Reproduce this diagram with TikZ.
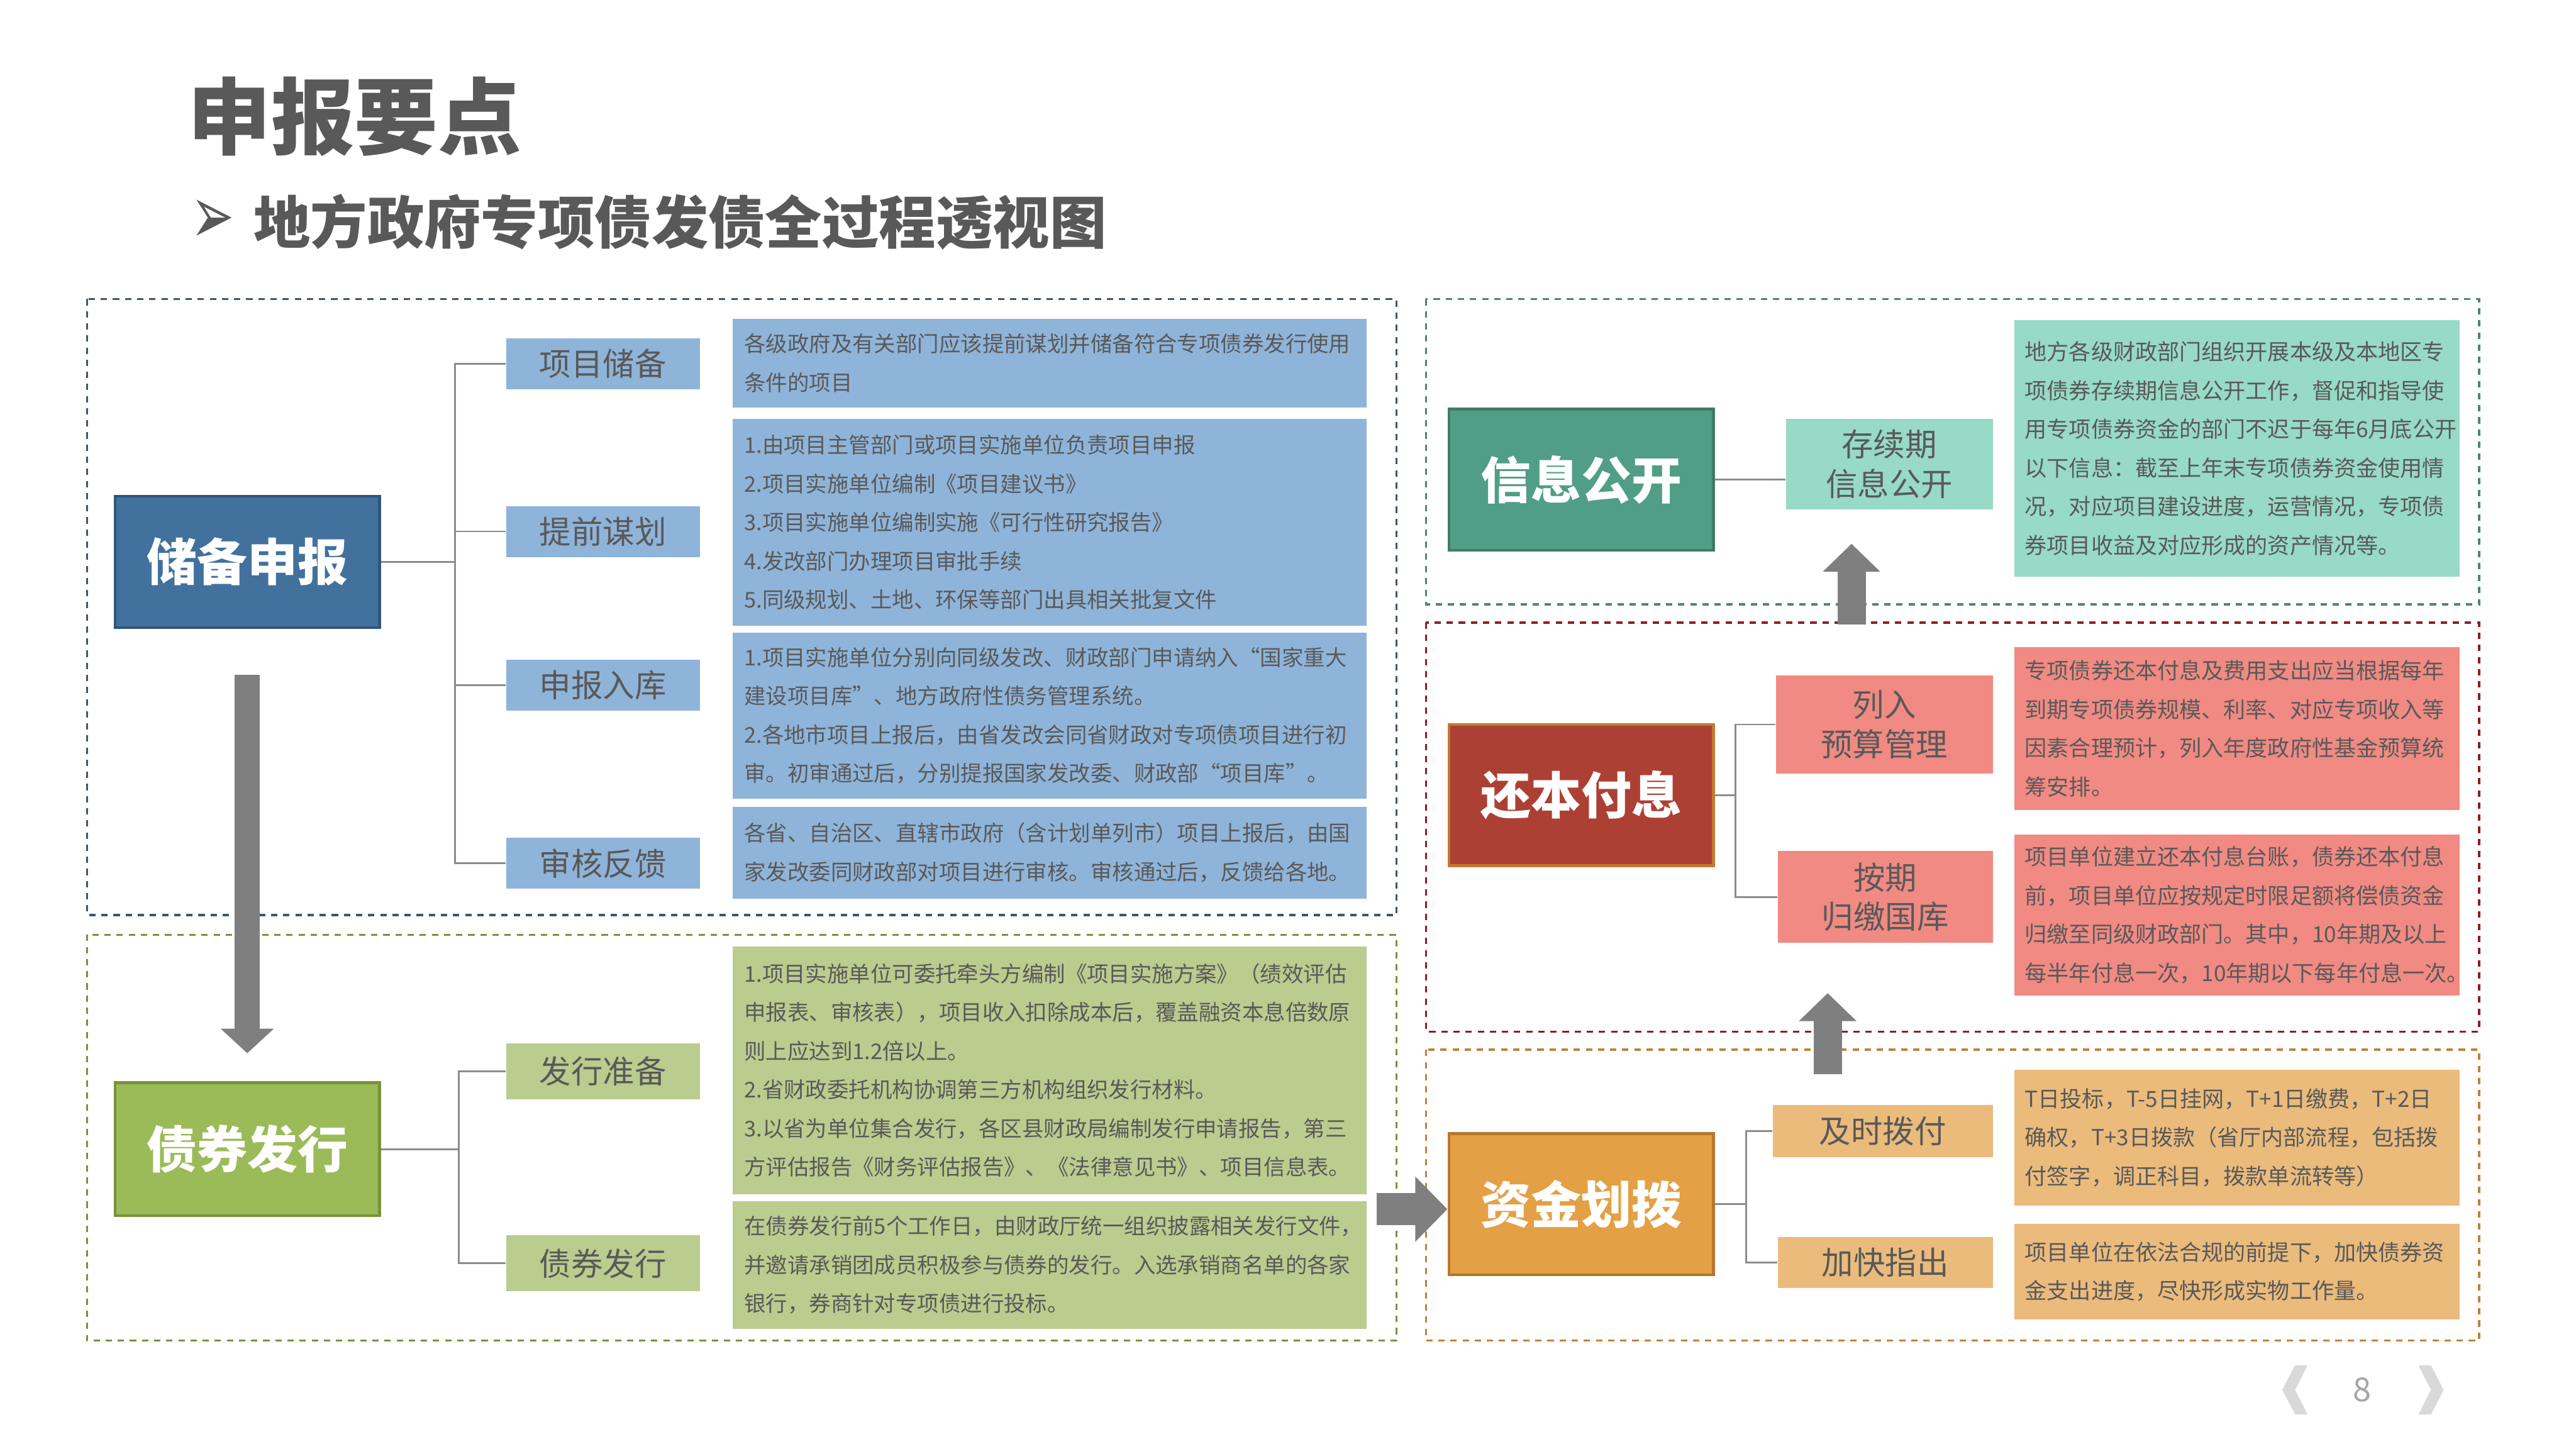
\documentclass[tikz,border=0pt]{standalone}
\usepackage{fontspec}
\setmainfont{Noto Sans CJK SC}
\newfontfamily\symfont{DejaVu Sans}
\usepackage{graphicx}
\usepackage{tikz}
\usetikzlibrary{positioning,arrows.meta,calc}
\usepackage{xcolor}
\definecolor{titlegray}{RGB}{89,89,89}
\definecolor{arrowgray}{RGB}{127,127,127}
\definecolor{linkgray}{RGB}{140,140,140}
\definecolor{navgray}{RGB}{217,217,217}
\definecolor{numgray}{RGB}{166,166,166}
\definecolor{bluemain}{RGB}{65,113,156}
\definecolor{blueedge}{RGB}{47,85,125}
\definecolor{bluelight}{RGB}{143,180,217}
\definecolor{blueframe}{RGB}{68,84,106}
\definecolor{greenmain}{RGB}{155,187,89}
\definecolor{greenedge}{RGB}{118,146,60}
\definecolor{greenlight}{RGB}{186,204,142}
\definecolor{greenframe}{RGB}{118,146,60}
\definecolor{tealmain}{RGB}{80,158,134}
\definecolor{tealedge}{RGB}{63,124,104}
\definecolor{teallight}{RGB}{151,218,197}
\definecolor{tealframe}{RGB}{74,135,115}
\definecolor{redmain}{RGB}{173,64,52}
\definecolor{rededge}{RGB}{192,122,48}
\definecolor{redlight}{RGB}{240,138,131}
\definecolor{redframe}{RGB}{140,30,30}
\definecolor{orangemain}{RGB}{227,160,69}
\definecolor{orangeedge}{RGB}{184,118,46}
\definecolor{orangelight}{RGB}{235,187,124}
\definecolor{orangeframe}{RGB}{192,129,58}

\tikzset{
  mainbox/.style 2 args={rectangle,fill=#1,draw=#2,line width=1pt,text=white,
    font=\fontsize{17.4}{20}\selectfont\bfseries,minimum width=3.22cm,minimum height=1.72cm},
  subbox/.style={rectangle,fill=#1,text=titlegray,font=\fontsize{11}{13.6}\selectfont,
    align=center,inner sep=0pt},
  descbox/.style={rectangle,fill=#1,text=titlegray,font=\fontsize{7.5}{13.4}\selectfont,
    align=left,inner xsep=0.14cm,inner ysep=0pt},
  descboxr/.style={descbox=#1,font=\fontsize{7.65}{13.4}\selectfont,inner xsep=0.13cm,text width=5.16cm},
  groupframe/.style={draw=#1,dash pattern=on 2.2pt off 2pt,line width=0.8pt},
  link/.style={draw=linkgray,line width=0.6pt},
  bigarrow/.style n args={3}{draw=arrowgray,line width=#1,-{Triangle[width=#2,length=#3]}}
}

\begin{document}
\begin{tikzpicture}[x=0.02cm,y=-0.02cm]
\useasboundingbox (0,0) rectangle (1568,882);

% title
\node[anchor=west,inner sep=0pt,text=titlegray,font=\fontsize{28.9}{30}\selectfont\bfseries] (title) at (114,71) {申报要点};
\node[anchor=west,inner sep=0pt,text=titlegray,font=\symfont\fontsize{19}{19}\selectfont] (bullet) at (116,135) {\scalebox{0.95}[1.5]{➢}};
\node[anchor=west,inner sep=0pt,text=titlegray,font=\fontsize{19.7}{21}\selectfont\bfseries] (subtitle) at (154,135) {地方政府专项债发债全过程透视图};

% dashed group frames
\draw[groupframe=blueframe] (53,182) rectangle (850,557);
\draw[groupframe=greenframe] (53,569) rectangle (850,816);
\draw[groupframe=tealframe] (868,182) rectangle (1509,368);
\draw[groupframe=redframe] (868,379) rectangle (1509,628);
\draw[groupframe=orangeframe] (868,639) rectangle (1509,816);

% main stages
\node[mainbox={bluemain}{blueedge},minimum height=1.6cm] (cbsb) at (150.5,342) {储备申报};
\node[mainbox={greenmain}{greenedge},minimum height=1.62cm] (zqfx) at (150.5,699.5) {债券发行};
\node[mainbox={tealmain}{tealedge}] (xxgk) at (962.5,292) {信息公开};
\node[mainbox={redmain}{rededge}] (hbfx) at (962.5,484) {还本付息};
\node[mainbox={orangemain}{orangeedge}] (zjhb) at (962.5,733) {资金划拨};

% steps
\node[subbox=bluelight,minimum width=2.36cm,minimum height=0.62cm] (xmcb) at (367,221.5) {项目储备};
\node[subbox=bluelight,minimum width=2.36cm,minimum height=0.62cm] (tqmh) at (367,323.5) {提前谋划};
\node[subbox=bluelight,minimum width=2.36cm,minimum height=0.62cm] (sbrk) at (367,417) {申报入库};
\node[subbox=bluelight,minimum width=2.36cm,minimum height=0.62cm] (shfk) at (367,525.5) {审核反馈};
\node[subbox=greenlight,minimum width=2.36cm,minimum height=0.68cm] (fxzb) at (367,652) {发行准备};
\node[subbox=greenlight,minimum width=2.36cm,minimum height=0.68cm] (zqfxsub) at (367,769) {债券发行};
\node[subbox=teallight,minimum width=2.52cm,minimum height=1.1cm] (cxq) at (1150,282.5) {存续期\\信息公开};
\node[subbox=redlight,minimum width=2.64cm,minimum height=1.2cm] (lrys) at (1147,441) {列入\\预算管理};
\node[subbox=redlight,minimum width=2.62cm,minimum height=1.12cm] (aqgj) at (1147.5,546) {按期\\归缴国库};
\node[subbox=orangelight,minimum width=2.68cm,minimum height=0.63cm] (jsbf) at (1146,688.5) {及时拨付};
\node[subbox=orangelight,minimum width=2.62cm,minimum height=0.62cm] (jkzc) at (1147.5,768.5) {加快指出};

% details
\node[descbox=bluelight,text width=7.44cm,minimum height=1.08cm] (xmcbtxt) at (639,221) {各级政府及有关部门应该提前谋划并储备符合专项债券发行使用\\条件的项目};
\node[descbox=bluelight,text width=7.44cm,minimum height=2.52cm] (tqmhtxt) at (639,318) {1.由项目主管部门或项目实施单位负责项目申报\\2.项目实施单位编制《项目建议书》\\3.项目实施单位编制实施《可行性研究报告》\\4.发改部门办理项目审批手续\\5.同级规划、土地、环保等部门出具相关批复文件};
\node[descbox=bluelight,text width=7.44cm,minimum height=2.02cm] (sbrktxt) at (639,435.5) {1.项目实施单位分别向同级发改、财政部门申请纳入“国家重大\\建设项目库”、地方政府性债务管理系统。\\2.各地市项目上报后，由省发改会同省财政对专项债项目进行初\\审。初审通过后，分别提报国家发改委、财政部“项目库”。};
\node[descbox=bluelight,text width=7.44cm,minimum height=1.12cm] (shfktxt) at (639,519) {各省、自治区、直辖市政府（含计划单列市）项目上报后，由国\\家发改委同财政部对项目进行审核。审核通过后，反馈给各地。};
\node[descbox=greenlight,text width=7.44cm,minimum height=3.02cm] (fxzbtxt) at (639,651.5) {1.项目实施单位可委托牵头方编制《项目实施方案》（绩效评估\\申报表、审核表），项目收入扣除成本后，覆盖融资本息倍数原\\则上应达到1.2倍以上。\\2.省财政委托机构协调第三方机构组织发行材料。\\3.以省为单位集合发行，各区县财政局编制发行申请报告，第三\\方评估报告《财务评估报告》、《法律意见书》、项目信息表。};
\node[descbox=greenlight,text width=7.44cm,minimum height=1.56cm] (zqfxtxt) at (639,770) {在债券发行前5个工作日，由财政厅统一组织披露相关发行文件，\\并邀请承销团成员积极参与债券的发行。入选承销商名单的各家\\银行，券商针对专项债进行投标。};
\node[descboxr=teallight,minimum height=3.12cm] (cxqtxt) at (1361.5,273) {地方各级财政部门组织开展本级及本地区专\\项债券存续期信息公开工作，督促和指导使\\用专项债券资金的部门不迟于每年6月底公开\\以下信息：截至上年末专项债券资金使用情\\况，对应项目建设进度，运营情况，专项债\\券项目收益及对应形成的资产情况等。};
\node[descboxr=redlight,minimum height=1.98cm] (lrystxt) at (1361.5,443.5) {专项债券还本付息及费用支出应当根据每年\\到期专项债券规模、利率、对应专项收入等\\因素合理预计，列入年度政府性基金预算统\\筹安排。};
\node[descboxr=redlight,minimum height=1.96cm] (aqgjtxt) at (1361.5,557) {项目单位建立还本付息台账，债券还本付息\\前，项目单位应按规定时限足额将偿债资金\\归缴至同级财政部门。其中，10年期及以上\\每半年付息一次，10年期以下每年付息一次。};
\node[descboxr=orangelight,minimum height=1.66cm] (jsbftxt) at (1361.5,692.5) {T日投标，T-5日挂网，T+1日缴费，T+2日\\确权，T+3日拨款（省厅内部流程，包括拨\\付签字，调正科目，拨款单流转等）};
\node[descboxr=orangelight,minimum height=1.16cm] (jkzctxt) at (1361.5,774) {项目单位在依法合规的前提下，加快债券资\\金支出进度，尽快形成实物工作量。};

% tree lines
\draw[link] (cbsb.east) -- ++(45,0) |- (xmcb.west);
\draw[link] (cbsb.east) -- ++(45,0) |- (tqmh.west);
\draw[link] (cbsb.east) -- ++(45,0) |- (sbrk.west);
\draw[link] (cbsb.east) -- ++(45,0) |- (shfk.west);
\draw[link] (zqfx.east) -- ++(47.5,0) |- (fxzb.west);
\draw[link] (zqfx.east) -- ++(47.5,0) |- (zqfxsub.west);
\draw[link] (xxgk.east) -- (xxgk.east -| cxq.west);
\draw[link] (hbfx.east) -- ++(12.5,0) |- (lrys.west);
\draw[link] (hbfx.east) -- ++(12.5,0) |- (aqgj.west);
\draw[link] (zjhb.east) -- ++(19,0) |- (jsbf.west);
\draw[link] (zjhb.east) -- ++(19,0) |- (jkzc.west);

% big arrows between stages
\coordinate (down1) at ([yshift=-0.56cm]cbsb.south);
\coordinate (down2) at ([yshift=0.34cm]zqfx.north);
\coordinate (right1) at (838,736);
\coordinate (right2) at (881,736);
\coordinate (upa1) at (1127,380);
\coordinate (upa2) at (1127,331);
\coordinate (upb1) at (1112.5,654);
\coordinate (upb2) at (1112.5,604.5);
\draw[bigarrow={0.31cm}{0.63cm}{0.3cm}] (down1) -- (down2);
\draw[bigarrow={0.386cm}{0.77cm}{0.39cm}] (right1) -- (right2);
\draw[bigarrow={0.344cm}{0.68cm}{0.34cm}] (upa1) -- (upa2);
\draw[bigarrow={0.344cm}{0.68cm}{0.34cm}] (upb1) -- (upb2);

% page number
\fill[navgray] (1397,831) -- (1404.6,831) -- (1397,846) -- (1404.6,861) -- (1397,861) -- (1389.2,846) -- cycle;
\fill[navgray] (1472,831) -- (1479.7,831) -- (1487.4,846) -- (1479.7,861) -- (1472,861) -- (1479.7,846) -- cycle;
\node[text=numgray,font=\fontsize{11.4}{12}\selectfont,inner sep=0pt] (pagenum) at (1438,846) {8};
\end{tikzpicture}
\end{document}
